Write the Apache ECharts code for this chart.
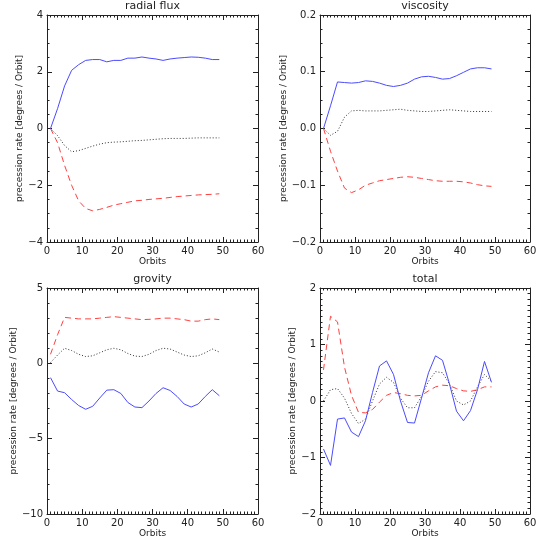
<!DOCTYPE html>
<html>
<head>
<meta charset="utf-8">
<script src="https://cdn.jsdelivr.net/npm/echarts@6/dist/echarts.min.js"></script>
<style>
  html, body { margin: 0; padding: 0; background: #fff; }
  #chart { width: 545px; height: 545px; }
</style>
</head>
<body>
<div id="chart"></div>
<script>
// orbits sampled at every other step
const orbits = [1, 3, 5, 7, 9, 11, 13, 15, 17, 19, 21, 23, 25, 27, 29, 31, 33, 35, 37, 39, 41, 43, 45, 47, 49]

const titles = ['radial flux', 'viscosity', 'grovity', 'total']

// radial flux
const radialSolid = [0, 0.7, 1.5, 2.05, 2.25, 2.4, 2.43, 2.43, 2.35, 2.4, 2.4, 2.48, 2.48, 2.52, 2.48, 2.45, 2.4, 2.45, 2.48, 2.5, 2.52, 2.51, 2.48, 2.43, 2.43]
const radialDotted = [0, -0.25, -0.6, -0.82, -0.78, -0.7, -0.62, -0.55, -0.5, -0.48, -0.47, -0.45, -0.43, -0.42, -0.4, -0.38, -0.36, -0.35, -0.35, -0.35, -0.34, -0.33, -0.33, -0.33, -0.33]
const radialDashed = [0, -0.5, -1.3, -2.0, -2.55, -2.82, -2.9, -2.85, -2.78, -2.7, -2.65, -2.6, -2.55, -2.53, -2.5, -2.48, -2.46, -2.43, -2.4, -2.38, -2.36, -2.34, -2.33, -2.32, -2.3]

// viscosity
const viscSolid = [0, 0.04, 0.082, 0.081, 0.08, 0.081, 0.084, 0.083, 0.08, 0.076, 0.074, 0.076, 0.08, 0.087, 0.091, 0.092, 0.09, 0.087, 0.088, 0.093, 0.099, 0.105, 0.107, 0.107, 0.105]
const viscDotted = [0, -0.012, -0.005, 0.02, 0.031, 0.032, 0.031, 0.031, 0.031, 0.032, 0.033, 0.034, 0.032, 0.031, 0.03, 0.03, 0.031, 0.032, 0.033, 0.032, 0.031, 0.03, 0.03, 0.03, 0.03]
const viscDashed = [0, -0.04, -0.075, -0.105, -0.113, -0.108, -0.1, -0.096, -0.092, -0.09, -0.088, -0.086, -0.085, -0.086, -0.088, -0.09, -0.092, -0.093, -0.093, -0.093, -0.094, -0.096, -0.099, -0.101, -0.102]

// gravity
const gravSolid = [-0.95, -1.84, -1.95, -2.4, -2.8, -3.05, -2.85, -2.3, -1.78, -1.75, -2.0, -2.6, -2.9, -2.94, -2.5, -2.0, -1.62, -1.8, -2.2, -2.7, -2.9, -2.7, -2.2, -1.75, -2.15]
const gravDotted = [0.05, 0.55, 1.0, 0.85, 0.6, 0.45, 0.5, 0.7, 0.9, 1.0, 0.9, 0.65, 0.48, 0.45, 0.6, 0.85, 1.0, 0.95, 0.75, 0.55, 0.45, 0.5, 0.7, 0.95, 0.75]
const gravDashed = [0.6, 1.9, 3.05, 3.0, 2.95, 2.95, 2.95, 3.0, 3.05, 3.1, 3.05, 3.0, 2.95, 2.9, 2.92, 2.95, 3.0, 3.0, 2.95, 2.9, 2.8, 2.8, 2.9, 2.95, 2.9]

// total
const totalSolid = [-0.85, -1.14, -0.32, -0.3, -0.55, -0.63, -0.35, 0.15, 0.62, 0.71, 0.47, 0.0, -0.38, -0.39, 0.05, 0.5, 0.8, 0.72, 0.3, -0.18, -0.35, -0.17, 0.2, 0.7, 0.33]
const totalDotted = [0.0, 0.2, 0.22, 0.05, -0.22, -0.4, -0.32, 0.0, 0.3, 0.42, 0.33, 0.05, -0.12, -0.12, 0.08, 0.35, 0.52, 0.5, 0.3, 0.0, -0.07, 0.0, 0.25, 0.47, 0.35]
const totalDashed = [0.55, 1.5, 1.4, 0.6, 0.1, -0.2, -0.21, -0.15, -0.02, 0.1, 0.15, 0.13, 0.1, 0.09, 0.1, 0.18, 0.25, 0.28, 0.27, 0.22, 0.18, 0.17, 0.2, 0.25, 0.25]

// y ranges per panel: min, max, interval, minor divisions, decimals
const yMin = [-4, -0.2, -10, -2]
const yMax = [4, 0.2, 5, 2]
const yStep = [2, 0.1, 5, 1]
const yMinor = [4, 4, 5, 10]
const yDecimals = [0, 1, 0, 0]

const solids = [radialSolid, viscSolid, gravSolid, totalSolid]
const dotteds = [radialDotted, viscDotted, gravDotted, totalDotted]
const dasheds = [radialDashed, viscDashed, gravDashed, totalDashed]

const grids = [
  { left: 47, top: 15, width: 211, height: 227 },
  { left: 320, top: 15, width: 210, height: 227 },
  { left: 47, top: 288, width: 211, height: 226 },
  { left: 320, top: 288, width: 210, height: 226 }
]

const font = 'DejaVu Sans'
const ink = '#222'

const lineStyle = { color: ink, width: 1 }
const frame = { show: true, onZero: false, lineStyle: lineStyle }
const tickBase = { show: true, inside: true, length: 5, lineStyle: lineStyle }
const minorBase = { show: true, length: 2.5, lineStyle: lineStyle }

const xAxis = []
const yAxis = []
const series = []

for (let i = 0; i < 4; i++) {
  // bottom axis with labels
  xAxis.push({
    type: 'value', gridIndex: i, position: 'bottom',
    min: 0, max: 60, interval: 10,
    name: 'Orbits', nameLocation: 'middle', nameGap: 15,
    nameTextStyle: { fontFamily: font, fontSize: 9, color: ink },
    axisLine: frame,
    axisTick: tickBase,
    minorTick: Object.assign({ splitNumber: 10 }, minorBase),
    axisLabel: { fontFamily: font, fontSize: 10, color: ink, margin: 4 },
    splitLine: { show: false }
  })
  // top mirror axis, carries the panel title
  xAxis.push({
    type: 'value', gridIndex: i, position: 'top',
    min: 0, max: 60, interval: 10,
    name: titles[i], nameLocation: 'middle', nameGap: 3,
    nameTextStyle: { fontFamily: font, fontSize: 11, color: ink },
    axisLine: frame,
    axisTick: tickBase,
    minorTick: Object.assign({ splitNumber: 10 }, minorBase),
    axisLabel: { show: false },
    splitLine: { show: false }
  })
  const dec = yDecimals[i]
  yAxis.push({
    type: 'value', gridIndex: i, position: 'left',
    min: yMin[i], max: yMax[i], interval: yStep[i],
    name: 'precession rate [degrees / Orbit]', nameLocation: 'middle', nameGap: 19,
    nameTextStyle: { fontFamily: font, fontSize: 9, color: ink },
    axisLine: frame,
    axisTick: tickBase,
    minorTick: Object.assign({ splitNumber: yMinor[i] }, minorBase),
    axisLabel: {
      fontFamily: font, fontSize: 10, color: ink, margin: 4,
      formatter: v => v.toFixed(dec).replace('-', '\u2212')
    },
    splitLine: { show: false }
  })
  yAxis.push({
    type: 'value', gridIndex: i, position: 'right',
    min: yMin[i], max: yMax[i], interval: yStep[i],
    axisLine: frame,
    axisTick: tickBase,
    minorTick: Object.assign({ splitNumber: yMinor[i] }, minorBase),
    axisLabel: { show: false },
    splitLine: { show: false }
  })

  const pair = arr => orbits.map((o, k) => [o, arr[k]])
  const base = { type: 'line', xAxisIndex: i * 2, yAxisIndex: i * 2, symbol: 'none', silent: true, animation: false }
  series.push(Object.assign({}, base, {
    data: pair(dotteds[i]),
    lineStyle: { color: '#333', width: 1, type: [1, 2] }
  }))
  series.push(Object.assign({}, base, {
    data: pair(dasheds[i]),
    lineStyle: { color: '#ff4040', width: 1, type: [6, 4] }
  }))
  series.push(Object.assign({}, base, {
    data: pair(solids[i]),
    lineStyle: { color: '#4b4bff', width: 1 }
  }))
}

const chart = echarts.init(document.getElementById('chart'))
chart.setOption({
  animation: false,
  backgroundColor: '#fff',
  grid: grids,
  xAxis: xAxis,
  yAxis: yAxis,
  series: series
})
</script>
</body>
</html>
